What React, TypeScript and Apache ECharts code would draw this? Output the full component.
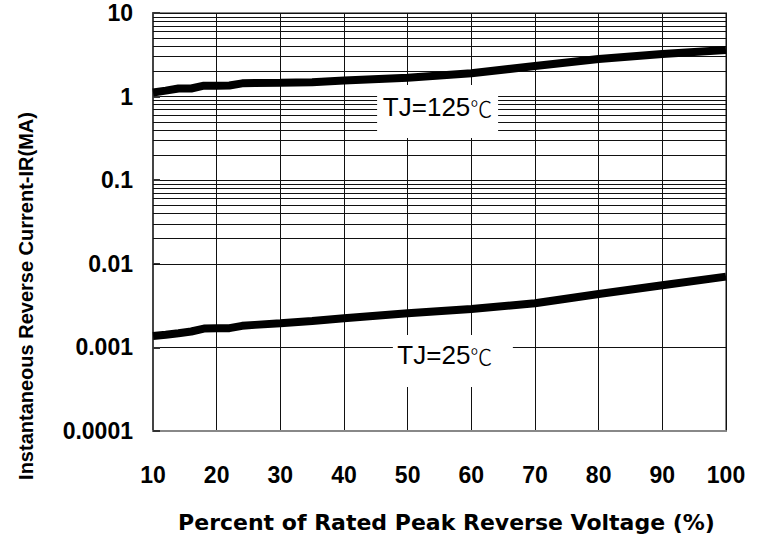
import React, { useEffect, useRef } from "react";
import * as echarts from "echarts";

// Percent of rated peak reverse voltage (%)
const voltagePct = [10, 12, 14, 16, 18, 20, 22, 24, 26, 30, 35, 40, 50, 60, 70, 80, 90, 100];
// Reverse current (mA) at TJ = 125 °C
const current125 = [1.12, 1.18, 1.25, 1.25, 1.35, 1.35, 1.36, 1.44, 1.45, 1.46, 1.48, 1.56, 1.68, 1.9, 2.32, 2.82, 3.23, 3.6];
// Reverse current (mA) at TJ = 25 °C
const current25 = [0.00137, 0.00142, 0.00148, 0.00155, 0.00168, 0.00169, 0.0017, 0.00181, 0.00186, 0.00194, 0.00207, 0.00223, 0.00256, 0.00288, 0.00337, 0.00436, 0.00553, 0.00702];

const yTickLabels = ["0.0001", "0.001", "0.01", "0.1", "1", "10"];
const decades = [0.0001, 0.001, 0.01, 0.1, 1];
const minorMultipliers = [2, 3, 4, 5, 6, 7, 8, 9];

const label125 = { text: "TJ=125", coord: [54.7, 0.6635] };
const label25 = { text: "TJ=25", coord: [57.1, 0.000688] };

const FONT = "'Liberation Sans', Arial, sans-serif";

export default function App() {
  const ref = useRef<HTMLDivElement>(null);

  useEffect(() => {
    if (!ref.current) return;
    const chart = echarts.init(ref.current, undefined, { renderer: "svg" });

    const minorLines: any[] = [];
    decades.forEach((d) => {
      minorMultipliers.forEach((m) => {
        minorLines.push({ yAxis: +(m * d).toPrecision(3) });
      });
    });

    const richLabel = {
      a: { fontFamily: FONT, fontSize: 26, color: "#000" },
      b: { fontFamily: "'Noto Sans CJK SC', sans-serif", fontSize: 22, fontWeight: 300, color: "#000" },
    };

    chart.setOption({
      animation: false,
      backgroundColor: "#fff",
      grid: {
        left: 153,
        right: 38,
        top: 13,
        bottom: 107,
        show: true,
        borderColor: "#888",
        borderWidth: 2,
        backgroundColor: "transparent",
      },
      xAxis: {
        type: "value",
        min: 10,
        max: 100,
        interval: 10,
        name: "Percent of Rated Peak Reverse Voltage (%)",
        nameLocation: "middle",
        nameGap: 80,
        nameTextStyle: {
          fontFamily: "'DejaVu Sans', sans-serif",
          fontSize: 22,
          fontWeight: "bold",
          color: "#000",
          padding: [0, 0, 0, 14],
        },
        axisLine: { show: true, lineStyle: { color: "#888", width: 2 } },
        axisTick: { show: false },
        axisLabel: { margin: 32, fontFamily: FONT, fontSize: 23, fontWeight: "bold", color: "#000" },
        splitLine: { show: true, lineStyle: { color: "#111", width: 1 } },
      },
      yAxis: {
        type: "log",
        logBase: 10,
        min: 0.0001,
        max: 10,
        axisLine: { show: true, lineStyle: { color: "#444", width: 2 } },
        axisTick: { show: true, inside: true, length: 7, lineStyle: { color: "#333", width: 2 } },
        axisLabel: {
          margin: 20,
          fontFamily: FONT,
          fontSize: 23,
          fontWeight: "bold",
          color: "#000",
          formatter: (v: number) => yTickLabels[Math.round(Math.log10(v)) + 4] ?? "",
        },
        splitLine: { show: true, lineStyle: { color: "#111", width: 1 } },
      },
      graphic: [
        {
          type: "text",
          x: 26,
          y: 296,
          rotation: Math.PI / 2,
          style: {
            text: "Instantaneous Reverse Current-IR(MA)",
            fontFamily: FONT,
            fontSize: 20,
            fontWeight: "bold",
            fill: "#000",
            align: "center",
            verticalAlign: "middle",
          },
        },
      ],
      series: [
        {
          type: "line",
          name: "TJ=125",
          z: 3,
          showSymbol: false,
          symbol: "none",
          lineStyle: { color: "#000", width: 8 },
          data: voltagePct.map((x, i) => [x, current125[i]]),
          markLine: {
            z: 1,
            silent: true,
            symbol: ["none", "none"],
            label: { show: false },
            lineStyle: { color: "#111", width: 1, type: "solid" },
            emphasis: { disabled: true },
            data: minorLines,
          },
          markPoint: {
            z: 10,
            silent: true,
            symbol: "rect",
            symbolSize: [121, 53],
            itemStyle: { color: "#fff" },
            label: {
              show: true,
              position: "inside",
              offset: [0, -4],
              formatter: "{a|" + label125.text + "}{b|℃}",
              rich: richLabel,
            },
            data: [{ coord: label125.coord }],
          },
        },
        {
          type: "line",
          name: "TJ=25",
          z: 3,
          showSymbol: false,
          symbol: "none",
          lineStyle: { color: "#000", width: 8 },
          data: voltagePct.map((x, i) => [x, current25[i]]),
          markPoint: {
            z: 10,
            silent: true,
            symbol: "rect",
            symbolSize: [120, 52],
            itemStyle: { color: "#fff" },
            label: {
              show: true,
              position: "inside",
              offset: [-8, -6],
              formatter: "{a|" + label25.text + "}{b|℃}",
              rich: richLabel,
            },
            data: [{ coord: label25.coord }],
          },
        },
      ],
    });

    return () => chart.dispose();
  }, []);

  return (
    <div
      ref={ref}
      style={{ position: "fixed", left: 0, top: 0, width: 764, height: 538, background: "#fff" }}
    />
  );
}
